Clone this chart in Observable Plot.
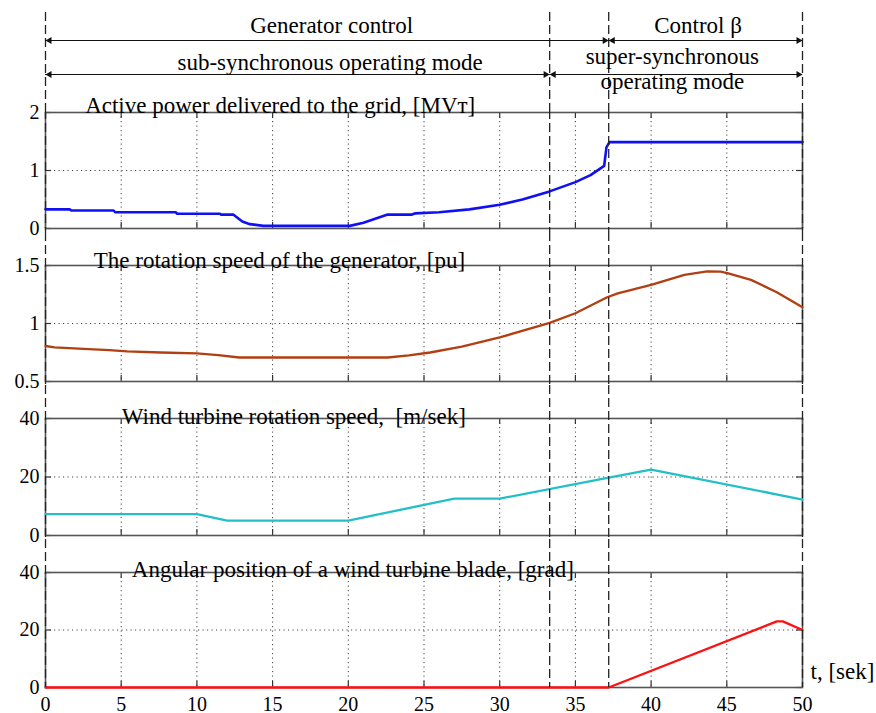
<!DOCTYPE html>
<html><head><meta charset="utf-8">
<script src="https://cdn.jsdelivr.net/npm/d3@7"></script>
<script src="https://cdn.jsdelivr.net/npm/@observablehq/plot@0.6"></script>
<style>
html,body{margin:0;padding:0;background:#fff;}
#chart{width:876px;height:713px;position:relative;}
#chart svg{display:block;overflow:visible;font-family:'Liberation Serif','Times New Roman',serif;}
#chart svg text{font-family:'Liberation Serif','Times New Roman',serif;}
</style></head><body><div id="chart"></div>
<script>
// ---------- data ----------
const xTicks = [0, 5, 10, 15, 20, 25, 30, 35, 40, 45, 50];
const modeBoundaries = [0, 33.3, 37.2, 50];

const powerT = [0, 1.6, 1.7, 4.5, 4.6, 8.6, 8.7, 11.5, 11.6, 12.4, 13.0, 13.5, 14.4, 20.1, 21.0, 22.6, 24.2, 24.4, 26, 28, 30, 31.5, 33.3, 35, 36, 36.9, 37.05, 37.25, 50];
const powerV = [0.33, 0.33, 0.31, 0.31, 0.28, 0.28, 0.255, 0.255, 0.24, 0.24, 0.12, 0.075, 0.045, 0.045, 0.10, 0.24, 0.24, 0.26, 0.28, 0.33, 0.41, 0.50, 0.64, 0.80, 0.92, 1.08, 1.40, 1.49, 1.49];

const genT = [0, 0.6, 2.2, 4.2, 5.4, 7.6, 10.0, 11.4, 12.8, 22.6, 24.0, 25.4, 27.5, 30, 33.3, 35, 37.1, 37.8, 40, 42.2, 43.7, 44.6, 45.1, 46.6, 48.3, 50];
const genV = [0.806, 0.795, 0.783, 0.771, 0.760, 0.750, 0.742, 0.728, 0.707, 0.707, 0.725, 0.750, 0.80, 0.88, 1.005, 1.088, 1.226, 1.26, 1.333, 1.42, 1.45, 1.447, 1.433, 1.376, 1.27, 1.14];

const windT = [0, 10, 12, 20, 27, 30, 37.2, 40, 50];
const windV = [7.3, 7.3, 5.1, 5.1, 12.6, 12.6, 19.75, 22.5, 12.3];

const bladeT = [0, 37.2, 48.3, 48.7, 50];
const bladeV = [0, 0, 23, 23, 20];

const panelTitles = [
  "Active power delivered to the grid, [MVт]",
  "The rotation speed of the generator, [pu]",
  "Wind turbine rotation speed,  [m/sek]",
  "Angular position of a wind turbine blade, [grad]"
];
const titleT = [15.5, 15.45, 16.4, 20.3];

const spanFrom = [0, 37.2, 0, 33.3];
const spanTo = [37.2, 50, 33.3, 50];
const spanRow = ["controlArrow", "controlArrow", "modeArrow", "modeArrow"];

const topLabelText = ["Generator control", "Control β", "sub-synchronous operating mode", "super-synchronous\noperating mode"];
const topLabelT = [18.9, 43.1, 18.8, 41.4];
const topLabelRow = ["control", "control", "mode", "modeSuper"];

// ---------- build ----------
const zip = (T, V) => T.map((t, i) => ({t, v: V[i]}));
const FONT = "Liberation Serif";
const W = 876, ML = 45, MR = 74;
const frameW = W - ML - MR;
const INK = "#111";
const DASH = "9,4";
const STYLE = "font-family:'Liberation Serif',serif;background:none;overflow:visible;color:#000;";

const root = document.getElementById("chart");

// annotation strip
const spans = spanFrom.map((f, i) => ({from: f, to: spanTo[i], row: spanRow[i]}));
const labels = topLabelText.map((s, i) => ({t: topLabelT[i], text: s, row: topLabelRow[i]}));
const txt = {fill: "#000", fontFamily: FONT, fontSize: 23};
const annot = Plot.plot({
  width: W, height: 110, marginLeft: ML, marginRight: MR, marginTop: 12, marginBottom: 0,
  style: STYLE,
  x: {domain: [0, 50], axis: null},
  y: {type: "point", domain: ["control", "controlArrow", "mode", "modeArrow"], range: [22.35, 75.3], padding: 0, axis: null},
  marks: [
    Plot.ruleX(modeBoundaries, {stroke: "#222", strokeWidth: 1.3, strokeDasharray: DASH}),
    Plot.ruleY(spans, {x1: "from", x2: "to", y: "row", stroke: INK, strokeWidth: 1.2}),
    Plot.dot(spans, {x: "from", y: "row", symbol: "triangle", rotate: -90, r: 2.6, fill: INK, stroke: "none", dx: 4}),
    Plot.dot(spans, {x: "to", y: "row", symbol: "triangle", rotate: 90, r: 2.6, fill: INK, stroke: "none", dx: -4}),
    Plot.text(labels.filter(d => d.row === "control"), {x: "t", y: "row", text: "text", dy: 2, ...txt}),
    Plot.text(labels.filter(d => d.row === "mode"), {x: "t", y: "row", text: "text", dy: 5, ...txt}),
    Plot.text(labels.filter(d => d.row === "modeSuper"), {x: "t", y: () => "mode", text: "text", dy: 10.85, lineHeight: 1.087, ...txt})
  ]
});
root.appendChild(annot);

function panel(p) {
  const H = p.height, frameH = H - p.mt - p.mb;
  const marks = [
    Plot.ruleX(xTicks.slice(1, -1), {stroke: "#444", strokeWidth: 1, strokeDasharray: "1.2,3.3"}),
    Plot.ruleY([p.ticks[1]], {stroke: "#444", strokeWidth: 1, strokeDasharray: "1.2,3.3"}),
    Plot.tickX(xTicks, {stroke: "#333", strokeWidth: 1.2, insetBottom: frameH - 6}),
    Plot.tickX(xTicks, {stroke: "#333", strokeWidth: 1.2, insetTop: frameH - 6}),
    Plot.tickY(p.ticks, {stroke: "#333", strokeWidth: 1.2, insetRight: frameW - 6}),
    Plot.tickY(p.ticks, {stroke: "#333", strokeWidth: 1.2, insetLeft: frameW - 6}),
    Plot.frame({stroke: "#555", strokeWidth: 1.6}),
    Plot.line(p.data, {x: "t", y: "v", stroke: p.color, strokeWidth: p.sw}),
    Plot.ruleX(modeBoundaries, {stroke: "#222", strokeWidth: 1.3, strokeDasharray: DASH, insetTop: -p.mt, insetBottom: p.last ? 0 : -p.mb}),
    Plot.axisY(p.ticks, {anchor: "left", tickSize: 0, tickPadding: 6, label: null, tickFormat: d => String(d), fill: "#000", fontFamily: FONT, fontSize: 20}),
    Plot.text([{t: p.titleT, s: p.title}], {x: "t", text: "s", frameAnchor: "top", dy: p.titleDy, ...txt})
  ];
  if (p.last) {
    marks.push(Plot.axisX(xTicks, {anchor: "bottom", tickSize: 0, tickPadding: 9, label: null, tickFormat: d => String(d), fill: "#000", fontFamily: FONT, fontSize: 20}));
    marks.push(Plot.text(["t, [sek]"], {frameAnchor: "bottom-right", textAnchor: "start", dx: 8, dy: -9, ...txt}));
  }
  return Plot.plot({
    width: W, height: H, marginLeft: ML, marginRight: MR, marginTop: p.mt, marginBottom: p.mb,
    style: STYLE,
    x: p.last ? {domain: [0, 50]} : {domain: [0, 50], axis: null},
    y: {domain: p.domain},
    marks
  });
}

const panels = [
  {data: zip(powerT, powerV), color: "#1010f5", sw: 2.6, domain: [0, 2], ticks: [0, 1, 2], height: 122, mt: 2, mb: 4, titleDy: -15.4},
  {data: zip(genT, genV), color: "#b13f12", sw: 2.3, domain: [0.5, 1.5], ticks: [0.5, 1, 1.5], height: 153, mt: 33, mb: 4, titleDy: -13.4},
  {data: zip(windT, windV), color: "#22c0c6", sw: 2.3, domain: [0, 40], ticks: [0, 20, 40], height: 154, mt: 33, mb: 4, titleDy: -10.7},
  {data: zip(bladeT, bladeV), color: "#ff1010", sw: 2.3, domain: [0, 40], ticks: [0, 20, 40], height: 174, mt: 33, mb: 26, titleDy: -11.7, last: true}
];
panels.forEach((p, i) => {
  p.title = panelTitles[i];
  p.titleT = titleT[i];
  root.appendChild(panel(p));
});
</script></body></html>
